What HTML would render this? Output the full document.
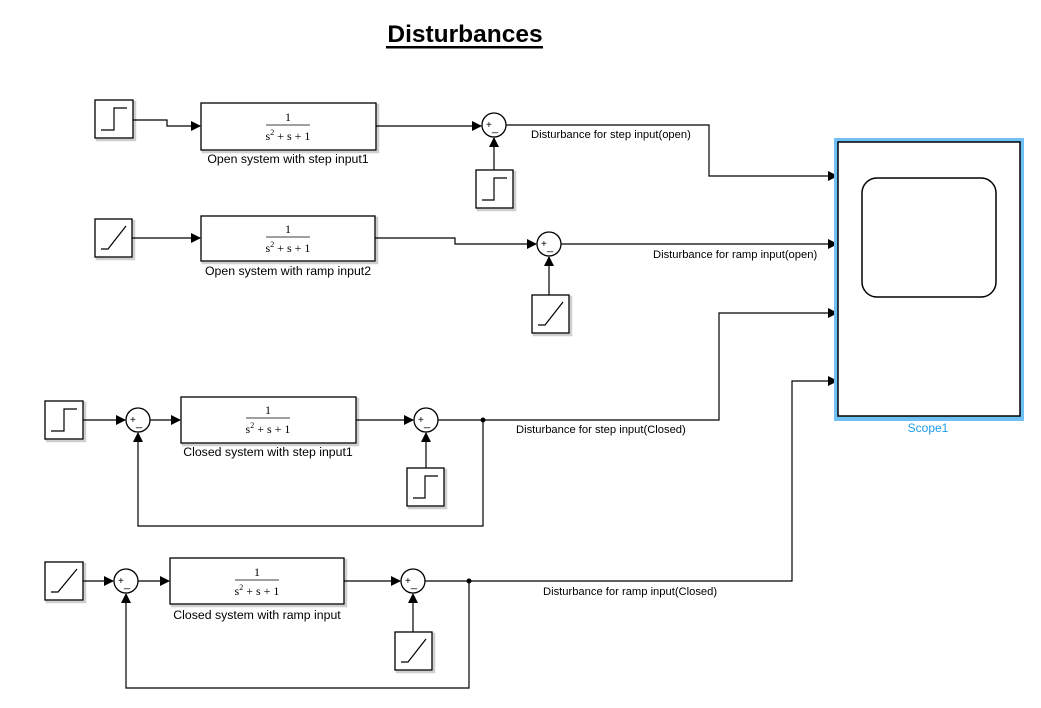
<!DOCTYPE html>
<html><head><meta charset="utf-8"><style>
body{margin:0;background:#fff;}
svg{display:block;font-family:"Liberation Sans",Arial,sans-serif;}
.b{fill:#fff;stroke:#000;stroke-width:1.3;}
.s{fill:none;stroke:#cfcfcf;stroke-width:2.5;}
.w{fill:none;stroke:#000;stroke-width:1.2;}
.lbl{font-size:12.3px;text-anchor:middle;fill:#000;}
.sig{font-size:11.2px;fill:#000;}
.tf{font-family:"Liberation Serif",serif;font-size:12px;text-anchor:middle;}
</style></head><body>
<svg width="1041" height="708" viewBox="0 0 1041 708">
<defs><marker id="a" markerWidth="10" markerHeight="10" refX="9" refY="5" orient="auto" markerUnits="userSpaceOnUse"><path d="M0,0 L10,5 L0,10 z" fill="#000"/></marker></defs>
<text x="465" y="42" font-size="24.5" font-weight="bold" text-anchor="middle">Disturbances</text>
<rect x="386" y="46" width="157" height="2.5" fill="#000"/>

<!-- Row 1 -->
<rect x="97" y="102" width="38" height="38" class="s"/><rect x="95" y="100" width="38" height="38" class="b"/>
<path d="M101,130 H114 V108 H127" class="w"/>
<path d="M133,120 H167 V126 H200" class="w" marker-end="url(#a)"/>
<rect x="203" y="105" width="175" height="47" class="s"/><rect x="201" y="103" width="175" height="47" class="b"/>
<text x="288" y="121" class="tf">1</text><line x1="266" y1="125" x2="310" y2="125" stroke="#000" stroke-width="0.8"/>
<text x="288" y="140" class="tf">s<tspan font-size="8" dy="-5">2</tspan><tspan dy="5"> + s + 1</tspan></text>
<text x="288" y="163" class="lbl">Open system with step input1</text>
<path d="M376,126 H481" class="w" marker-end="url(#a)"/>
<circle cx="494" cy="125" r="12" class="b"/><text x="486" y="128" font-size="10">+</text><text x="492" y="131" font-size="11">_</text>
<rect x="478" y="172" width="37" height="38" class="s"/><rect x="476" y="170" width="37" height="38" class="b"/>
<path d="M482,200 H494 V178 H507" class="w"/>
<path d="M494,170 V138" class="w" marker-end="url(#a)"/>
<path d="M506,125 H709 V176 H837" class="w" marker-end="url(#a)"/>
<text x="531" y="138" class="sig">Disturbance for step input(open)</text>

<!-- Row 2 -->
<rect x="97" y="221" width="37" height="38" class="s"/><rect x="95" y="219" width="37" height="38" class="b"/>
<path d="M101,249 H108 L126,226" class="w"/>
<path d="M132,238 H200" class="w" marker-end="url(#a)"/>
<rect x="203" y="218" width="174" height="45" class="s"/><rect x="201" y="216" width="174" height="45" class="b"/>
<text x="288" y="233" class="tf">1</text><line x1="266" y1="237" x2="310" y2="237" stroke="#000" stroke-width="0.8"/>
<text x="288" y="252" class="tf">s<tspan font-size="8" dy="-5">2</tspan><tspan dy="5"> + s + 1</tspan></text>
<text x="288" y="275" class="lbl">Open system with ramp input2</text>
<path d="M375,238 H455 V244 H536" class="w" marker-end="url(#a)"/>
<circle cx="549" cy="244" r="12" class="b"/><text x="541" y="247" font-size="10">+</text><text x="547" y="250" font-size="11">_</text>
<rect x="534" y="297" width="37" height="38" class="s"/><rect x="532" y="295" width="37" height="38" class="b"/>
<path d="M538,325 H545 L563,302" class="w"/>
<path d="M549,295 V257" class="w" marker-end="url(#a)"/>
<path d="M561,244 H837" class="w" marker-end="url(#a)"/>
<text x="653" y="258" class="sig">Disturbance for ramp input(open)</text>

<!-- Row 3 -->
<rect x="47" y="403" width="38" height="38" class="s"/><rect x="45" y="401" width="38" height="38" class="b"/>
<path d="M51,431 H64 V409 H77" class="w"/>
<path d="M83,420 H125" class="w" marker-end="url(#a)"/>
<circle cx="138" cy="420" r="12" class="b"/><text x="130" y="423" font-size="10">+</text><text x="136" y="426" font-size="11">_</text>
<path d="M150,420 H180" class="w" marker-end="url(#a)"/>
<rect x="183" y="399" width="175" height="46" class="s"/><rect x="181" y="397" width="175" height="46" class="b"/>
<text x="268" y="414" class="tf">1</text><line x1="246" y1="418" x2="290" y2="418" stroke="#000" stroke-width="0.8"/>
<text x="268" y="433" class="tf">s<tspan font-size="8" dy="-5">2</tspan><tspan dy="5"> + s + 1</tspan></text>
<text x="268" y="456" class="lbl">Closed system with step input1</text>
<path d="M356,420 H413" class="w" marker-end="url(#a)"/>
<circle cx="426" cy="420" r="12" class="b"/><text x="418" y="423" font-size="10">+</text><text x="424" y="426" font-size="11">_</text>
<rect x="409" y="470" width="37" height="38" class="s"/><rect x="407" y="468" width="37" height="38" class="b"/>
<path d="M413,498 H425 V476 H438" class="w"/>
<path d="M426,468 V433" class="w" marker-end="url(#a)"/>
<path d="M438,420 H719 V313 H837" class="w" marker-end="url(#a)"/>
<circle cx="483" cy="420" r="2.5" fill="#000"/>
<path d="M483,420 V526 H138 V433" class="w" marker-end="url(#a)"/>
<text x="516" y="433" class="sig">Disturbance for step input(Closed)</text>

<!-- Row 4 -->
<rect x="47" y="564" width="38" height="38" class="s"/><rect x="45" y="562" width="38" height="38" class="b"/>
<path d="M51,592 H58 L77,569" class="w"/>
<path d="M83,581 H113" class="w" marker-end="url(#a)"/>
<circle cx="126" cy="581" r="12" class="b"/><text x="118" y="584" font-size="10">+</text><text x="124" y="587" font-size="11">_</text>
<path d="M138,581 H169" class="w" marker-end="url(#a)"/>
<rect x="172" y="560" width="174" height="46" class="s"/><rect x="170" y="558" width="174" height="46" class="b"/>
<text x="257" y="576" class="tf">1</text><line x1="235" y1="580" x2="279" y2="580" stroke="#000" stroke-width="0.8"/>
<text x="257" y="595" class="tf">s<tspan font-size="8" dy="-5">2</tspan><tspan dy="5"> + s + 1</tspan></text>
<text x="257" y="619" class="lbl">Closed system with ramp input</text>
<path d="M344,581 H400" class="w" marker-end="url(#a)"/>
<circle cx="413" cy="581" r="12" class="b"/><text x="405" y="584" font-size="10">+</text><text x="411" y="587" font-size="11">_</text>
<rect x="397" y="634" width="37" height="38" class="s"/><rect x="395" y="632" width="37" height="38" class="b"/>
<path d="M401,662 H408 L426,639" class="w"/>
<path d="M413,632 V594" class="w" marker-end="url(#a)"/>
<path d="M425,581 H792 V381 H837" class="w" marker-end="url(#a)"/>
<circle cx="469" cy="581" r="2.5" fill="#000"/>
<path d="M469,581 V688 H126 V594" class="w" marker-end="url(#a)"/>
<text x="543" y="595" class="sig">Disturbance for ramp input(Closed)</text>

<!-- Scope -->
<rect x="834" y="138" width="190" height="283" fill="#6ec0f5"/>
<rect x="838" y="142" width="182" height="274" fill="#fff" stroke="#000" stroke-width="1.5"/>
<rect x="862" y="178" width="134" height="119" rx="15" fill="#fff" stroke="#000" stroke-width="1.5"/>
<text x="928" y="432" font-size="12" fill="#1e9be9" text-anchor="middle">Scope1</text>
</svg>
</body></html>
